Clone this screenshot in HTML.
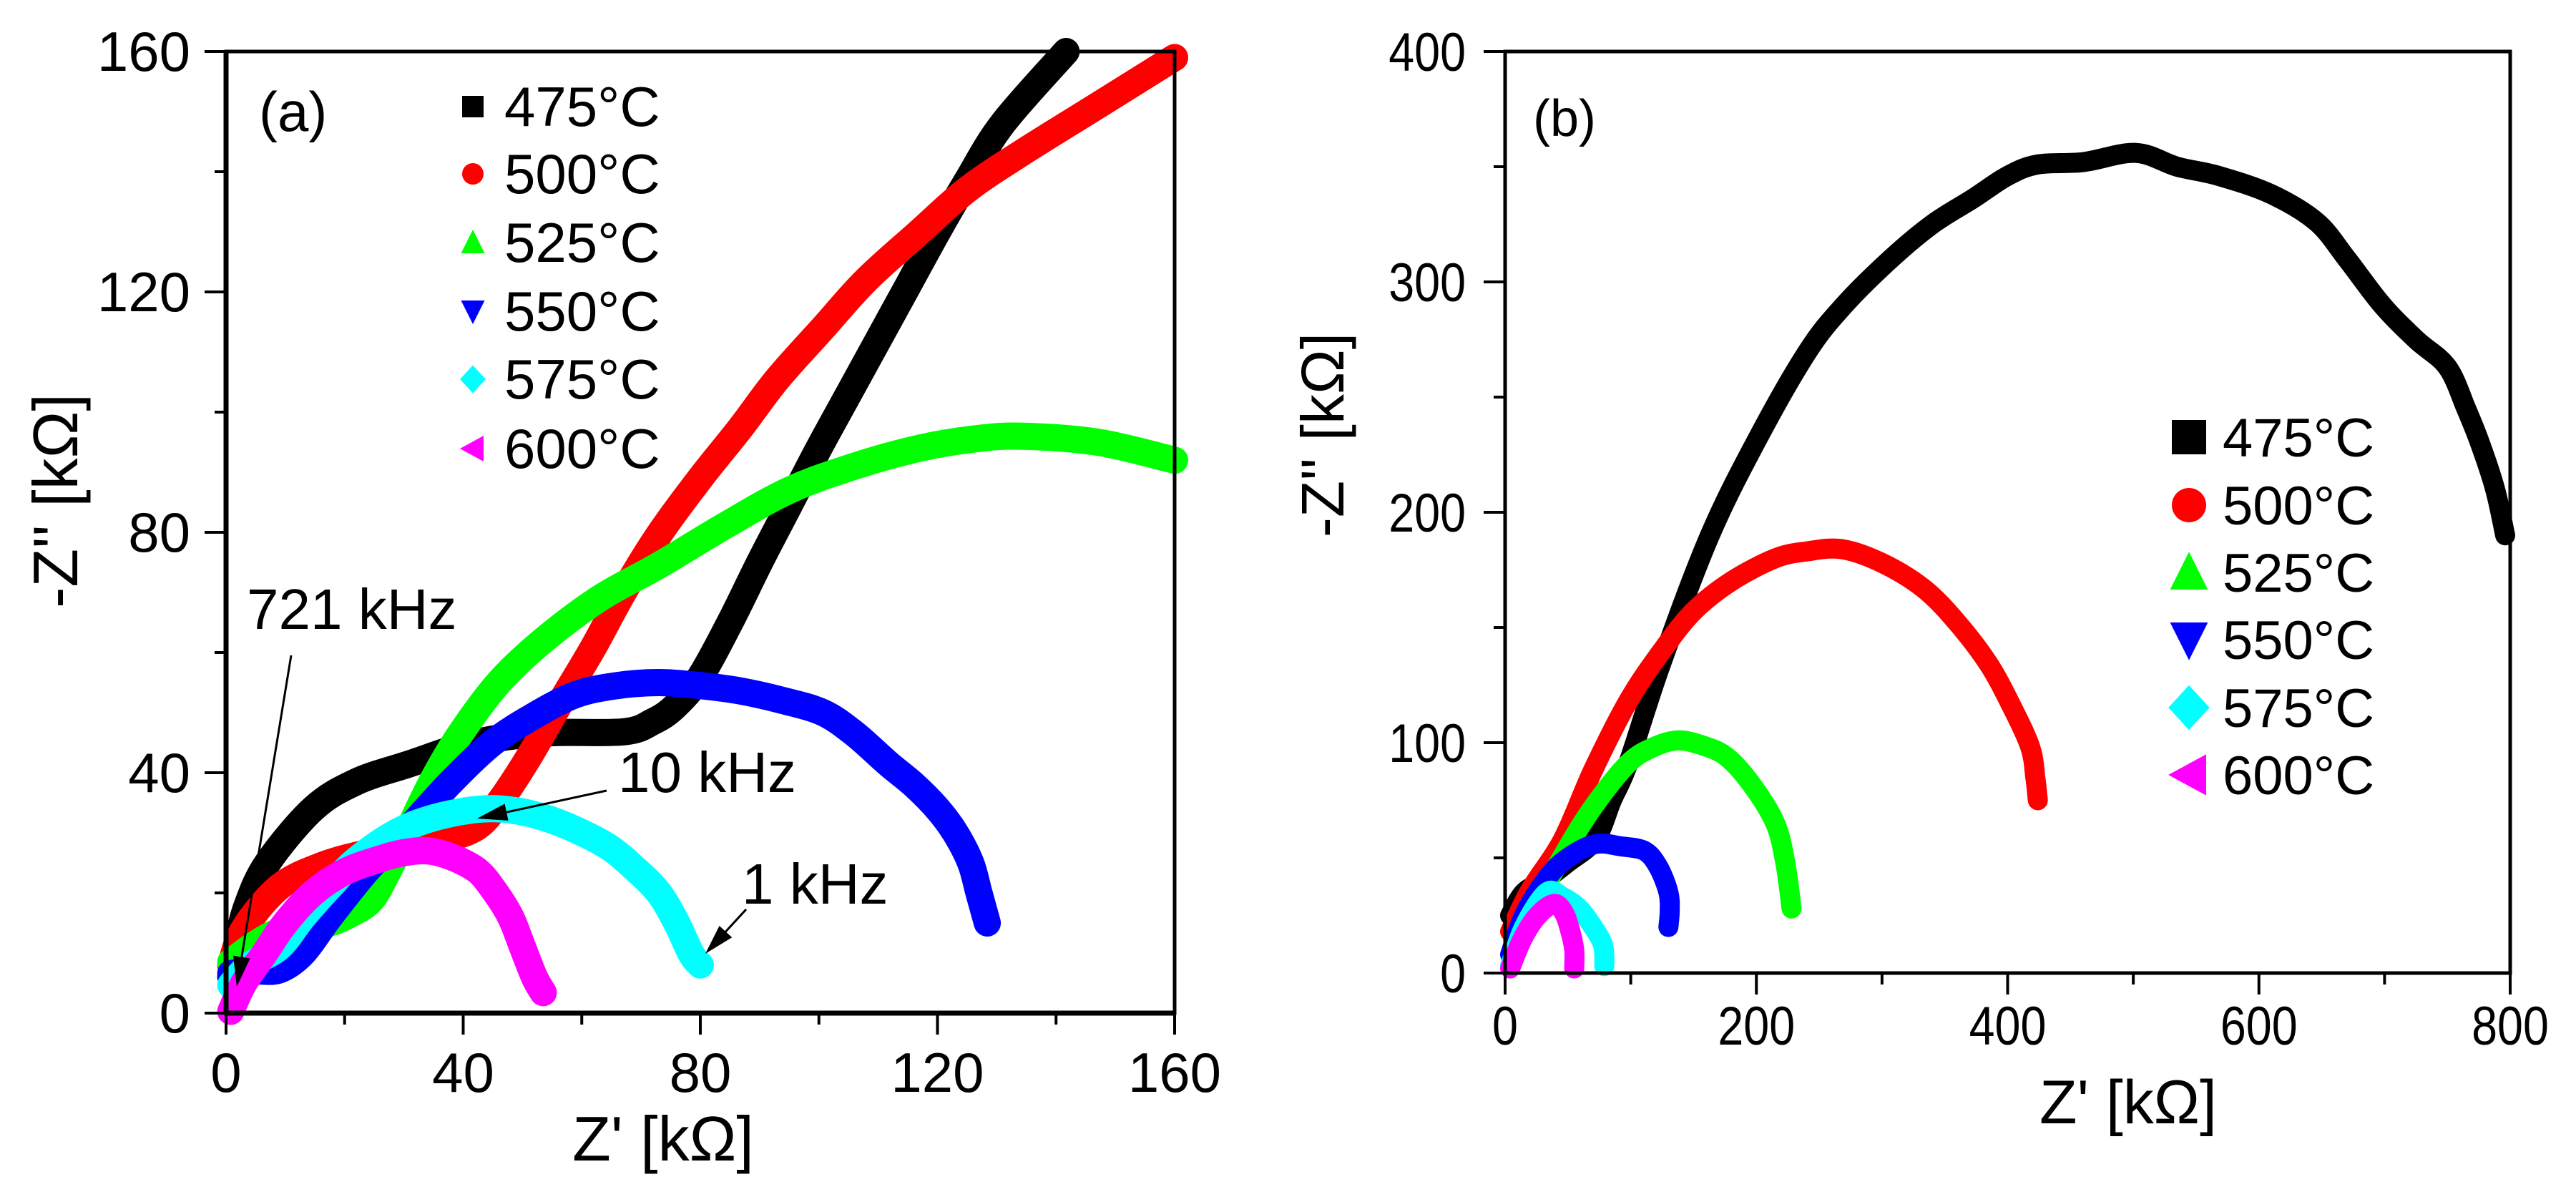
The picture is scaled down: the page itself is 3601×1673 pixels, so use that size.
<!DOCTYPE html>
<html><head><meta charset="utf-8"><style>
html,body{margin:0;padding:0;background:#fff}
svg{display:block}
text{font-family:"Liberation Sans",Arial,sans-serif;fill:#000}
</style></head><body>
<svg id="chart" width="3601" height="1673" viewBox="0 0 3601 1673" xmlns="http://www.w3.org/2000/svg">
<g id="pa"></g>
<g id="pb"></g>
</svg>
<script>
const seriesNames = ["475°C","500°C","525°C","550°C","575°C","600°C"];
const seriesColors = ["#000000","#ff0000","#00ff00","#0000ff","#00ffff","#ff00ff"];
const seriesMarkers = ["square","circle","up","down","diamond","left"];
const aTicksX = [0,40,80,120,160];
const aTicksY = [0,40,80,120,160];
const bTicksX = [0,200,400,600,800];
const bTicksY = [0,100,200,300,400];
// Panel (a) data [Z', -Z''] in kOhm
const a475 = [[0.8,6],[2,12],[3.6,18],[7,25],[14.7,34],[22,38.5],[31,41.5],[42,45],[53.5,46.6],[67,46.8],[72,48.5],[75.7,51],[80,56],[85,65],[90,75],[95,84.5],[100,94],[105,103],[110,112],[115,121],[120,130],[125,138.5],[131,148],[141.7,160]];
const a500 = [[0.8,8],[3,14],[9,21],[16,24.5],[23,26.5],[30,28],[37,29],[42.4,31],[46,35],[50.7,42],[56,51],[61.8,60.6],[67,70],[73,79.6],[80,89],[86.8,97.4],[93,105.5],[100.7,114],[108,122],[117,130],[125,137],[134,143],[147,151],[160,159]];
const a525 = [[0.8,8.5],[5,11.5],[9,13.6],[14,14.5],[17.5,15],[21,16.5],[24.4,18.7],[27,23],[31,31],[35,39],[39.6,46.6],[46,55],[53.5,62],[63,69],[73,74.5],[84,81],[95,87],[106,91],[117,94],[126,95.5],[134,96],[147,95],[160,92]];
const a550 = [[0.8,6.6],[5,7],[9,7.2],[13,10],[17.5,16],[24,24],[31,31],[38,38.5],[45,45],[52,49.5],[59,53],[66,54.5],[73,55],[80,54.5],[86.8,53.6],[94,52],[100.7,50],[106,46.5],[111.7,41.5],[116,38],[120,34],[123,30],[125.6,25],[127,20],[128.4,15]];
const a575 = [[0.8,4.7],[4,8],[9,11],[13,16],[17.5,21],[22,25.5],[28.6,30],[35,32.5],[42.4,33.9],[48,33.8],[53.5,32.6],[59,30.5],[64.6,27.6],[69,24],[73,20],[76,15],[78.5,9.8],[80,8]];
const a600 = [[0.8,0.3],[3,5],[6.4,9.8],[10,15],[14.7,20],[20,23.5],[25.8,25.6],[30,26.7],[34,27],[38,26],[42.4,23.7],[45.5,20],[48,16],[50,11],[52,6],[53.5,3.4]];
// Panel (b) data
const b475 = [[4,25],[15,35],[33,41],[50,48],[72,58],[85,75],[98,91],[124,134],[163,190],[202,233],[241,270],[270,290],[307,310],[340,325],[372,336],[400,346],[424,351],[460,352],[502,356],[535,350],[568,346],[610,338],[646,326],[670,310],[698,290],[725,275],[750,263],[765,245],[776,230],[788,210],[796,190]];
const b500 = [[4,18],[20,36],[46,58],[70,88],[98,118],[125,140],[150,157],[180,170],[215,180],[240,183],[268,184],[300,178],[333,167],[360,152],[385,134],[403,116],[418,98],[422,85],[424,75]];
const b525 = [[4,3],[20,25],[46,51],[70,72],[98,91],[118,98],[137,101],[156,99],[176,94],[196,82],[215,65],[223,48],[228,28]];
const b550 = [[4,8],[15,25],[33,41],[50,50],[72,56],[92,55],[111,53],[122,46],[130,35],[131,27],[130,20]];
const b575 = [[4,3],[15,20],[33,35],[46,33],[59,28],[70,20],[78,12],[79,3]];
const b600 = [[4,2],[14,15],[26,25],[39,30],[47,26],[52,18],[55,10],[55,2]];
const aData = [a475,a500,a525,a550,a575,a600];
const bData = [b475,b500,b525,b550,b575,b600];

const NS = "http://www.w3.org/2000/svg";
function mk(tag, attrs, parent){const e=document.createElementNS(NS,tag);for(const k in attrs)e.setAttribute(k,attrs[k]);parent.appendChild(e);return e;}
function smoothPath(pts){
  if(pts.length<2) return "";
  let d="M"+pts[0][0].toFixed(1)+","+pts[0][1].toFixed(1);
  for(let i=0;i<pts.length-1;i++){
    const p0=pts[Math.max(0,i-1)],p1=pts[i],p2=pts[i+1],p3=pts[Math.min(pts.length-1,i+2)];
    const c1=[p1[0]+(p2[0]-p0[0])/6,p1[1]+(p2[1]-p0[1])/6];
    const c2=[p2[0]-(p3[0]-p1[0])/6,p2[1]-(p3[1]-p1[1])/6];
    d+=" C"+c1[0].toFixed(1)+","+c1[1].toFixed(1)+" "+c2[0].toFixed(1)+","+c2[1].toFixed(1)+" "+p2[0].toFixed(1)+","+p2[1].toFixed(1);
  }
  return d;
}
function marker(g,type,cx,cy,s,color){
  let e;
  if(type==="square") e=mk("rect",{x:cx-s/2,y:cy-s/2,width:s,height:s,fill:color},g);
  else if(type==="circle") e=mk("circle",{cx:cx,cy:cy,r:s/2,fill:color},g);
  else if(type==="up") e=mk("polygon",{points:`${cx},${cy-s*0.6} ${cx-s*0.55},${cy+s*0.5} ${cx+s*0.55},${cy+s*0.5}`,fill:color},g);
  else if(type==="down") e=mk("polygon",{points:`${cx},${cy+s*0.6} ${cx-s*0.55},${cy-s*0.5} ${cx+s*0.55},${cy-s*0.5}`,fill:color},g);
  else if(type==="diamond") e=mk("polygon",{points:`${cx},${cy-s*0.65} ${cx+s*0.6},${cy} ${cx},${cy+s*0.65} ${cx-s*0.6},${cy}`,fill:color},g);
  else e=mk("polygon",{points:`${cx-s*0.6},${cy} ${cx+s*0.5},${cy-s*0.6} ${cx+s*0.5},${cy+s*0.6}`,fill:color},g);
  return e;
}
function panel(g,cfg){
  const sx=v=>cfg.x0+(v-cfg.xmin)/(cfg.xmax-cfg.xmin)*(cfg.x1-cfg.x0);
  const sy=v=>cfg.y0-(v-cfg.ymin)/(cfg.ymax-cfg.ymin)*(cfg.y0-cfg.y1);
  const sg=mk("g",{},g);
  
  
  cfg.data.forEach((ser,i)=>{
    const p=mk("path",{d:smoothPath(ser.map(q=>[sx(q[0]),sy(q[1])])),fill:"none",stroke:seriesColors[i],"stroke-width":cfg.sw,"stroke-linecap":"round","stroke-linejoin":"round"},sg);
    
    
  });
  const fr=mk("rect",{x:cfg.x0,y:cfg.y1,width:cfg.x1-cfg.x0,height:cfg.y0-cfg.y1,fill:"none",stroke:"#000","stroke-width":5},g);
  
  
  mk("line",{x1:cfg.x0,y1:cfg.y0,x2:cfg.x1,y2:cfg.y0,stroke:"#000","stroke-width":cfg.axw},g);
  mk("line",{x1:cfg.x0,y1:cfg.y0,x2:cfg.x0,y2:cfg.y1,stroke:"#000","stroke-width":cfg.axw},g);
  const xt=cfg.xt, yt=cfg.yt;
  for(let i=0;i<xt.length;i++){
    const x=sx(xt[i]);
    mk("line",{x1:x,y1:cfg.y0,x2:x,y2:cfg.y0+30,stroke:"#000","stroke-width":4},g);
    if(i<xt.length-1){const xm=sx((xt[i]+xt[i+1])/2);mk("line",{x1:xm,y1:cfg.y0,x2:xm,y2:cfg.y0+16,stroke:"#000","stroke-width":4},g);}
    const t=mk("text",{x:x,y:cfg.y0+cfg.xlabDy,"font-size":cfg.fs,"text-anchor":"middle"},g);
    t.textContent=xt[i];
    
    
    if(cfg.cond) t.setAttribute("transform",`translate(${x},0) scale(${cfg.cond},1) translate(${-x},0)`);
  }
  for(let i=0;i<yt.length;i++){
    const y=sy(yt[i]);
    mk("line",{x1:cfg.x0-30,y1:y,x2:cfg.x0,y2:y,stroke:"#000","stroke-width":4},g);
    if(i<yt.length-1){const ym=sy((yt[i]+yt[i+1])/2);mk("line",{x1:cfg.x0-16,y1:ym,x2:cfg.x0,y2:ym,stroke:"#000","stroke-width":4},g);}
    const lx=cfg.x0-cfg.ylabDx;
    const t=mk("text",{x:lx,y:y+27,"font-size":cfg.fs,"text-anchor":"end"},g);
    t.textContent=yt[i];
    
    
    if(cfg.cond) t.setAttribute("transform",`translate(${lx},0) scale(${cfg.cond},1) translate(${-lx},0)`);
  }
  cfg.legY.forEach((ly,i)=>{
    const lg=mk("g",{},g);
    
    
    marker(lg,seriesMarkers[i],cfg.legMx,ly,cfg.legMs,seriesColors[i]);
    const t=mk("text",{x:cfg.legTx,y:ly+27,"font-size":cfg.legFs},lg);
    t.textContent=seriesNames[i];
  });
  return {sx,sy};
}
const A = panel(document.getElementById("pa"),{x0:316,x1:1642,y0:1416,y1:72,xmin:0,xmax:160,ymin:0,ymax:160,data:aData,xt:aTicksX,yt:aTicksY,sw:38,axw:7,fs:78,xlabDy:110,ylabDx:50,legY:[149,243,339,435,530,627],legMx:661,legMs:30,legTx:705,legFs:78});
const B = panel(document.getElementById("pb"),{x0:2104,x1:3509,y0:1360,y1:72,xmin:0,xmax:800,ymin:0,ymax:400,data:bData,xt:bTicksX,yt:bTicksY,sw:28,axw:5,fs:76,xlabDy:100,ylabDx:55,cond:0.85,legY:[611,706,800,894,989,1083],legMx:3060,legMs:48,legTx:3107,legFs:76});

const svg=document.getElementById("chart");
function txt(s,attrs,name){const t=mk("text",attrs,svg);t.textContent=s;return t;}
txt("(a)",{x:362,y:183,"font-size":78},"panel-a-label");
txt("(b)",{x:2143,y:190,"font-size":72},"panel-b-label");
txt("Z' [kΩ]",{x:927,y:1622,"font-size":88,"text-anchor":"middle"},"panel-a-x-axis-title");
txt("-Z'' [kΩ]",{x:0,y:0,"font-size":88,"text-anchor":"middle",transform:"translate(108,700) rotate(-90)"},"panel-a-y-axis-title");
txt("Z' [kΩ]",{x:2975,y:1570,"font-size":86,"text-anchor":"middle"},"panel-b-x-axis-title");
txt("-Z'' [kΩ]",{x:0,y:0,"font-size":84,"text-anchor":"middle",transform:"translate(1878,608) rotate(-90)"},"panel-b-y-axis-title");
txt("721 kHz",{x:345,y:879,"font-size":80},"annotation-721khz");
txt("10 kHz",{x:864,y:1107,"font-size":80},"annotation-10khz");
txt("1 kHz",{x:1037,y:1263,"font-size":80},"annotation-1khz");
function arrow(x1,y1,x2,y2,name){
  const g=mk("g",{},svg);
  
  
  const dx=x2-x1,dy=y2-y1,L=Math.hypot(dx,dy),ux=dx/L,uy=dy/L,h=42,w=12;
  mk("line",{x1:x1,y1:y1,x2:x2-ux*h*0.8,y2:y2-uy*h*0.8,stroke:"#000","stroke-width":3},g);
  const bx=x2-ux*h,by=y2-uy*h;
  mk("polygon",{points:`${x2},${y2} ${bx-uy*w},${by+ux*w} ${bx+uy*w},${by-ux*w}`,fill:"#000"},g);
}
arrow(407,916,331,1379,"arrow-721khz");
arrow(848,1105,667,1144,"arrow-10khz");
arrow(1043,1271,986,1333,"arrow-1khz");
</script>
</body></html>
